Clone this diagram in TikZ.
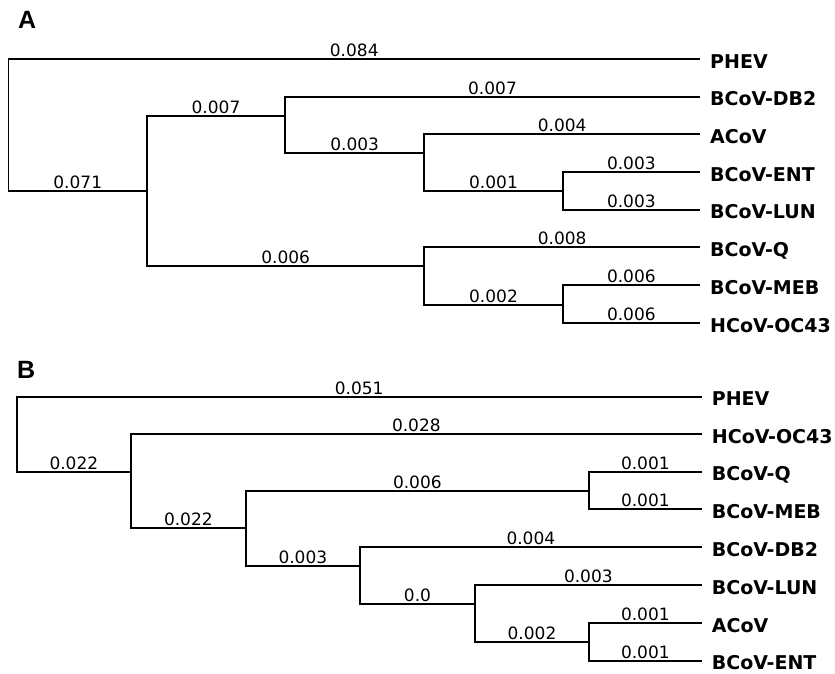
\documentclass[tikz,border=0pt]{standalone}
\usepackage{fontspec}
\newfontfamily\brfont{DejaVu Sans}
\newfontfamily\panfont{Liberation Sans}
\tikzset{
  branch/.style={line width=1.9pt, line join=miter, black},
  blen/.style={pos=0.75, anchor=base, yshift=2.5pt, inner sep=0pt, text=black, font=\brfont\fontsize{17}{18}\selectfont},
  leaf/.style={anchor=base west, inner sep=0pt, xshift=10pt, yshift=-9pt, font=\brfont\bfseries\fontsize{19}{20}\selectfont},
  panel/.style={anchor=base west, inner sep=0pt, font=\panfont\bfseries\fontsize{25}{26}\selectfont}
}
\begin{document}
\begin{tikzpicture}[x=1pt, y=-1pt]
\useasboundingbox (0,0) rectangle (835,673);
% ---------------- Panel A ----------------
\node[panel] (pA) at (18,28) {A};
\coordinate (rootA) at (8.5,125);
\coordinate (a1) at (147,191);
\coordinate (a2) at (285,115.7);
\coordinate (a3) at (424.3,153.3);
\coordinate (a4) at (562.7,190.7);
\coordinate (a5) at (424.3,266);
\coordinate (a6) at (562.7,304.7);
\coordinate (aPHEV) at (700,59);
\coordinate (aDB2) at (700,96.7);
\coordinate (aACoV) at (700,134.3);
\coordinate (aENT) at (700,172);
\coordinate (aLUN) at (700,209.7);
\coordinate (aQ) at (700,247.3);
\coordinate (aMEB) at (700,285.3);
\coordinate (aOC) at (700,323.3);
\draw[branch] (rootA) |- (aPHEV) node[blen] {0.084};
\draw[branch] (rootA) |- (a1) node[blen] {0.071};
\draw[branch] (a1) |- (a2) node[blen] {0.007};
\draw[branch] (a1) |- (a5) node[blen] {0.006};
\draw[branch] (a2) |- (aDB2) node[blen] {0.007};
\draw[branch] (a2) |- (a3) node[blen] {0.003};
\draw[branch] (a3) |- (aACoV) node[blen] {0.004};
\draw[branch] (a3) |- (a4) node[blen] {0.001};
\draw[branch] (a4) |- (aENT) node[blen] {0.003};
\draw[branch] (a4) |- (aLUN) node[blen] {0.003};
\draw[branch] (a5) |- (aQ) node[blen] {0.008};
\draw[branch] (a5) |- (a6) node[blen] {0.002};
\draw[branch] (a6) |- (aMEB) node[blen] {0.006};
\draw[branch] (a6) |- (aOC) node[blen] {0.006};
\node[leaf] (laPHEV) at (aPHEV) {PHEV};
\node[leaf] (laDB2) at (aDB2) {BCoV-DB2};
\node[leaf] (laACoV) at (aACoV) {ACoV};
\node[leaf] (laENT) at (aENT) {BCoV-ENT};
\node[leaf] (laLUN) at (aLUN) {BCoV-LUN};
\node[leaf] (laQ) at (aQ) {BCoV-Q};
\node[leaf] (laMEB) at (aMEB) {BCoV-MEB};
\node[leaf] (laOC) at (aOC) {HCoV-OC43};
% ---------------- Panel B ----------------
\node[panel] (pB) at (17,378.5) {B};
\coordinate (rootB) at (16.7,430);
\coordinate (b1) at (131,471.7);
\coordinate (b2) at (245.7,528.3);
\coordinate (b3) at (589,491);
\coordinate (b4) at (360,566);
\coordinate (b5) at (475,604);
\coordinate (b6) at (589,641.7);
\coordinate (bPHEV) at (701.7,396.7);
\coordinate (bOC) at (701.7,434.3);
\coordinate (bQ) at (701.7,471.7);
\coordinate (bMEB) at (701.7,509.3);
\coordinate (bDB2) at (701.7,547.3);
\coordinate (bLUN) at (701.7,585);
\coordinate (bACoV) at (701.7,623.3);
\coordinate (bENT) at (701.7,660.7);
\draw[branch] (rootB) |- (bPHEV) node[blen] {0.051};
\draw[branch] (rootB) |- (b1) node[blen] {0.022};
\draw[branch] (b1) |- (bOC) node[blen] {0.028};
\draw[branch] (b1) |- (b2) node[blen] {0.022};
\draw[branch] (b2) |- (b3) node[blen] {0.006};
\draw[branch] (b2) |- (b4) node[blen] {0.003};
\draw[branch] (b3) |- (bQ) node[blen] {0.001};
\draw[branch] (b3) |- (bMEB) node[blen] {0.001};
\draw[branch] (b4) |- (bDB2) node[blen] {0.004};
\draw[branch] (b4) |- (b5) node[blen] {0.0};
\draw[branch] (b5) |- (bLUN) node[blen] {0.003};
\draw[branch] (b5) |- (b6) node[blen] {0.002};
\draw[branch] (b6) |- (bACoV) node[blen] {0.001};
\draw[branch] (b6) |- (bENT) node[blen] {0.001};
\node[leaf] (lbPHEV) at (bPHEV) {PHEV};
\node[leaf] (lbOC) at (bOC) {HCoV-OC43};
\node[leaf] (lbQ) at (bQ) {BCoV-Q};
\node[leaf] (lbMEB) at (bMEB) {BCoV-MEB};
\node[leaf] (lbDB2) at (bDB2) {BCoV-DB2};
\node[leaf] (lbLUN) at (bLUN) {BCoV-LUN};
\node[leaf] (lbACoV) at (bACoV) {ACoV};
\node[leaf] (lbENT) at (bENT) {BCoV-ENT};
\end{tikzpicture}
\end{document}
